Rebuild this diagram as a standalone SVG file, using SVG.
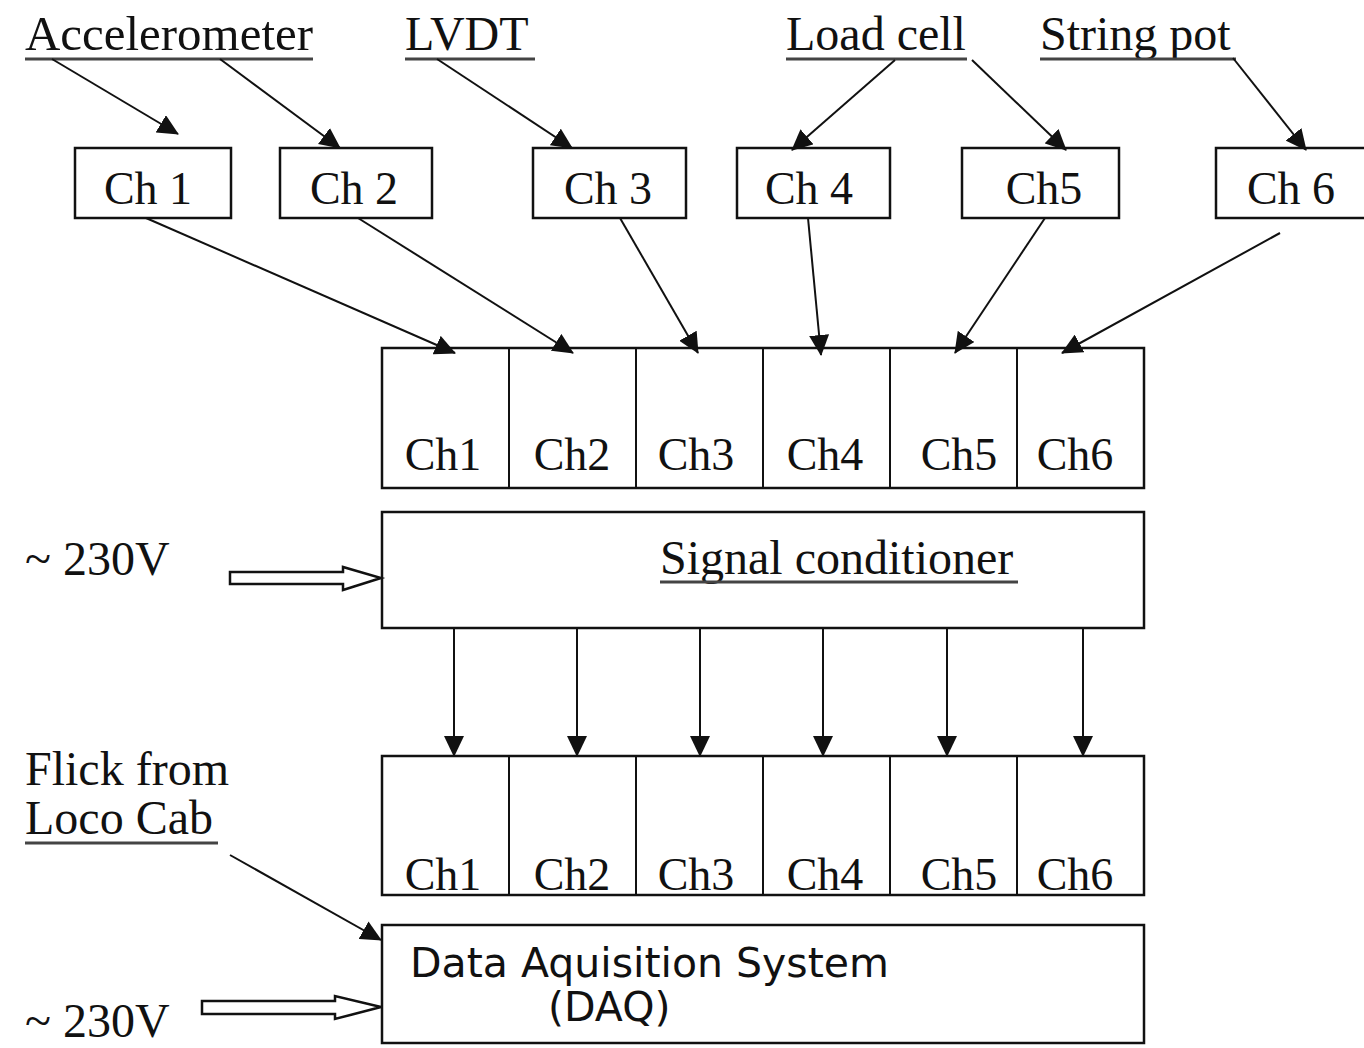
<svg xmlns="http://www.w3.org/2000/svg" width="1364" height="1048" viewBox="0 0 1364 1048">
<style>
.box{fill:#fff;stroke:#111;stroke-width:2.5}
.cell{fill:none;stroke:#111;stroke-width:2}
.serif{font-family:"Liberation Serif","Times New Roman",serif;fill:#111}
.lbl{font-size:48px}
.ch{font-size:46px;text-anchor:middle}
.sans{font-family:"DejaVu Sans","Verdana",sans-serif;font-size:41px;fill:#111}
.ul{stroke:#444;stroke-width:3}
.con{stroke:#111;stroke-width:2;fill:none;marker-end:url(#ah)}
.hollow{fill:#fff;stroke:#111;stroke-width:2.5;stroke-linejoin:miter}
</style>
<defs>
<marker id="ah" markerUnits="userSpaceOnUse" markerWidth="22" markerHeight="20" refX="20" refY="10" orient="auto">
<path d="M0,0 L21,10 L0,20 z" fill="#111"/>
</marker>
</defs>
<rect width="1364" height="1048" fill="#fff"/>

<g id="label-accelerometer">
<text class="serif lbl" x="25" y="50" textLength="288" lengthAdjust="spacingAndGlyphs">Accelerometer</text>
<line class="ul" x1="25" y1="59" x2="313" y2="59"/>
</g>
<g id="label-lvdt">
<text class="serif lbl" x="405" y="50">LVDT</text>
<line class="ul" x1="405" y1="59" x2="535" y2="59"/>
</g>
<g id="label-loadcell">
<text class="serif lbl" x="786" y="50">Load cell</text>
<line class="ul" x1="786" y1="59" x2="967" y2="59"/>
</g>
<g id="label-stringpot">
<text class="serif lbl" x="1040" y="50">String pot</text>
<line class="ul" x1="1040" y1="59" x2="1236" y2="59"/>
</g>

<g id="top-ch1"><rect class="box" x="75" y="148" width="156" height="70"/><text class="serif ch" x="148" y="204">Ch 1</text></g>
<g id="top-ch2"><rect class="box" x="280" y="148" width="152" height="70"/><text class="serif ch" x="354" y="204">Ch 2</text></g>
<g id="top-ch3"><rect class="box" x="533" y="148" width="153" height="70"/><text class="serif ch" x="608" y="204">Ch 3</text></g>
<g id="top-ch4"><rect class="box" x="737" y="148" width="153" height="70"/><text class="serif ch" x="809" y="204">Ch 4</text></g>
<g id="top-ch5"><rect class="box" x="962" y="148" width="157" height="70"/><text class="serif ch" x="1044" y="204">Ch5</text></g>
<g id="top-ch6"><rect class="box" x="1216" y="148" width="150" height="70"/><text class="serif ch" x="1291" y="204">Ch 6</text></g>

<g id="input-channels">
<rect class="box" x="382" y="348" width="762" height="140"/>
<path class="cell" d="M509,348V488M636,348V488M763,348V488M890,348V488M1017,348V488"/>
<text class="serif ch" x="443" y="470">Ch1</text>
<text class="serif ch" x="572" y="470">Ch2</text>
<text class="serif ch" x="696" y="470">Ch3</text>
<text class="serif ch" x="825" y="470">Ch4</text>
<text class="serif ch" x="959" y="470">Ch5</text>
<text class="serif ch" x="1075" y="470">Ch6</text>
</g>

<g id="signal-conditioner">
<rect class="box" x="382" y="512" width="762" height="116"/>
<text class="serif lbl" x="660" y="574">Signal conditioner</text>
<line class="ul" x1="660" y1="582" x2="1018" y2="582"/>
</g>

<g id="output-channels">
<rect class="box" x="382" y="756" width="762" height="139"/>
<path class="cell" d="M509,756V895M636,756V895M763,756V895M890,756V895M1017,756V895"/>
<text class="serif ch" x="443" y="890">Ch1</text>
<text class="serif ch" x="572" y="890">Ch2</text>
<text class="serif ch" x="696" y="890">Ch3</text>
<text class="serif ch" x="825" y="890">Ch4</text>
<text class="serif ch" x="959" y="890">Ch5</text>
<text class="serif ch" x="1075" y="890">Ch6</text>
</g>

<g id="daq">
<rect class="box" x="382" y="925" width="762" height="118"/>
<text class="sans" x="410" y="977">Data Aquisition System</text>
<text class="sans" x="548" y="1021">(DAQ)</text>
</g>

<g id="label-230v-1"><text class="serif lbl" x="25" y="575">~ 230V</text></g>
<g id="label-flick">
<text class="serif lbl" x="25" y="785">Flick from</text>
<text class="serif lbl" x="25" y="834">Loco Cab</text>
<line class="ul" x1="25" y1="843" x2="218" y2="843"/>
</g>
<g id="label-230v-2"><text class="serif lbl" x="25" y="1037">~ 230V</text></g>

<g id="connectors">
<line class="con" x1="52" y1="59" x2="178" y2="134"/>
<line class="con" x1="220" y1="59" x2="340" y2="148"/>
<line class="con" x1="437" y1="59" x2="572" y2="148"/>
<line class="con" x1="895" y1="60" x2="792" y2="150"/>
<line class="con" x1="972" y1="60" x2="1066" y2="150"/>
<line class="con" x1="1233" y1="58" x2="1306" y2="150"/>

<line class="con" x1="146" y1="218" x2="455" y2="353"/>
<line class="con" x1="358" y1="218" x2="573" y2="353"/>
<line class="con" x1="620" y1="218" x2="698" y2="353"/>
<line class="con" x1="808" y1="218" x2="821" y2="355"/>
<line class="con" x1="1045" y1="218" x2="955" y2="353"/>
<line class="con" x1="1280" y1="233" x2="1062" y2="353"/>

<line class="con" x1="454" y1="628" x2="454" y2="756"/>
<line class="con" x1="577" y1="628" x2="577" y2="756"/>
<line class="con" x1="700" y1="628" x2="700" y2="756"/>
<line class="con" x1="823" y1="628" x2="823" y2="756"/>
<line class="con" x1="947" y1="628" x2="947" y2="756"/>
<line class="con" x1="1083" y1="628" x2="1083" y2="756"/>

<line class="con" x1="230" y1="855" x2="381" y2="940"/>

<polygon class="hollow" points="230,572 343,572 343,567 381,578 343,590 343,584 230,584"/>
<polygon class="hollow" points="202,1001 335,1001 335,996 381,1007 335,1019 335,1014 202,1014"/>
</g>
</svg>
